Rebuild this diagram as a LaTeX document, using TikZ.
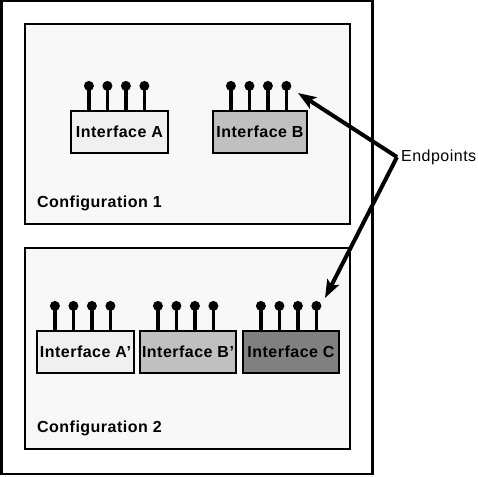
\documentclass[tikz,border=0pt]{standalone}
\usepackage{fontspec}
\setmainfont{Liberation Sans}[LetterSpace=3]
\usetikzlibrary{arrows.meta}
\definecolor{cfgfill}{HTML}{F8F8F8}
\definecolor{ifA}{HTML}{F0F0F0}
\definecolor{ifB}{HTML}{C0C0C0}
\definecolor{ifC}{HTML}{808080}
\tikzset{
  frame/.style={draw, line width=2.5pt, rectangle, inner sep=0pt},
  cfgbox/.style={frame, fill=cfgfill, minimum width=325pt},
  ifbox/.style={draw, line width=2.2pt, rectangle, minimum width=96pt, minimum height=42pt, inner sep=0pt,
     font=\fontsize{16}{19}\selectfont\bfseries},
  cfglabel/.style={anchor=west, inner sep=0pt, font=\fontsize{16}{19}\selectfont\bfseries},
  pinline/.style={line width=3.6pt},
  arrowline/.style={line width=4pt, -{Stealth[length=18pt,width=13pt,inset=4pt]}, shorten >=0pt},
}
\newcommand\ifpins[1]{%
  \foreach \i in {0,...,3}{%
    \draw[pinline] ([xshift={19+18.5*\i}]#1.north west) -- ++(0,-22);
    \fill ([xshift={19+18.5*\i},yshift=24]#1.north west) circle[radius=5];
  }}
\begin{document}
\begin{tikzpicture}[x=1pt,y=-1pt]
\useasboundingbox (0,0) rectangle (478,476);
\node[frame, minimum width=371pt, minimum height=473pt] (outer) at (187,237.5) {};
\node[cfgbox, minimum height=200pt] (cfg1) at (187.5,124) {};
\node[cfgbox, minimum height=201pt] (cfg2) at (187.5,348.5) {};
\node[cfglabel] (lab1) at (37,203) {Configuration 1};
\node[cfglabel] (lab2) at (37,428) {Configuration 2};
\node[ifbox, fill=ifA, minimum width=97pt] (ifa) at (119.5,132) {Interface A};
\node[ifbox, fill=ifB, minimum width=94pt] (ifb) at (260,132) {Interface B};
\node[ifbox, fill=ifA, minimum width=97pt] (ifa2) at (85.5,352) {Interface A'};
\node[ifbox, fill=ifB] (ifb2) at (188,352) {Interface B'};
\node[ifbox, fill=ifC] (ifc) at (291,352) {Interface C};
\ifpins{ifa}
\ifpins{ifb}
\ifpins{ifa2}
\ifpins{ifb2}
\ifpins{ifc}
\node[anchor=west, inner sep=4pt, font=\fontsize{16}{19}\selectfont] (ep) at (397,157) {Endpoints};
\coordinate (tip1) at (298,93);
\coordinate (tip2) at (325,298);
\draw[arrowline] (ep.west) -- (tip1);
\draw[arrowline] (ep.west) -- (tip2);
\end{tikzpicture}
\end{document}
